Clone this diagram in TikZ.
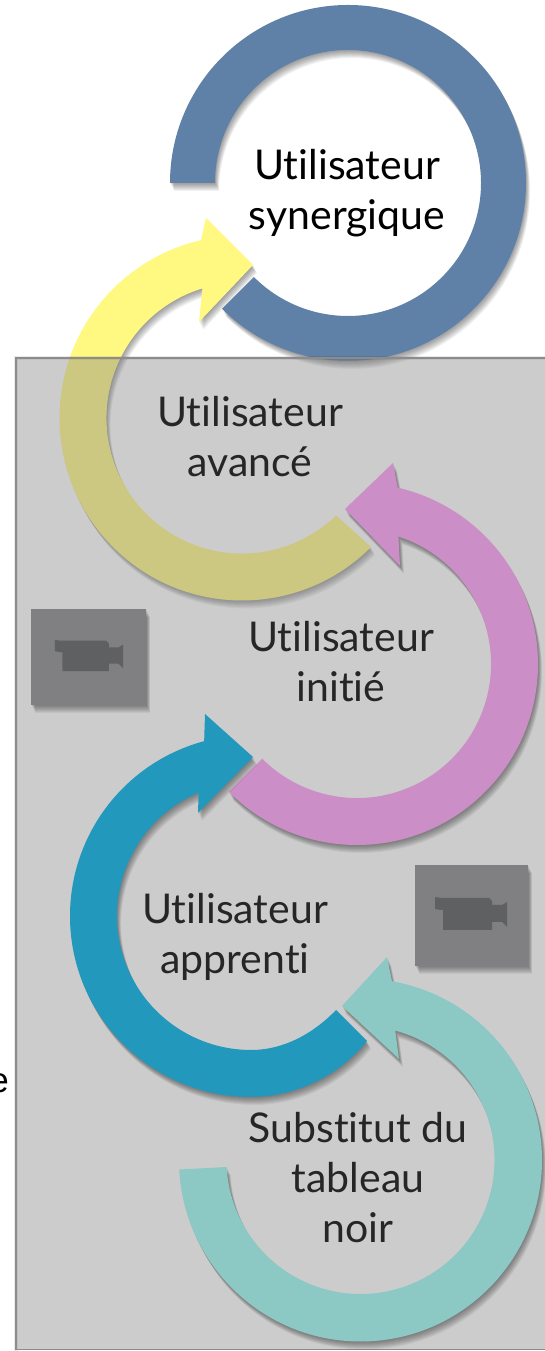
\documentclass[tikz,border=0pt]{standalone}
\usepackage{fontspec}
\setmainfont{Lato}[Ligatures=NoCommon]
\newfontfamily\edgefont{Liberation Sans}
\usetikzlibrary{shadows,calc}
\definecolor{ringblue}{HTML}{6081A7}
\definecolor{ringyellow}{HTML}{FFF982}
\definecolor{ringpink}{HTML}{CC8EC7}
\definecolor{ringcyan}{HTML}{2298BC}
\definecolor{ringteal}{HTML}{8CC8C4}
\definecolor{boxgray}{HTML}{808082}
\definecolor{icongray}{HTML}{5F6062}
\tikzstyle{softlayer} = [general shadow={shadow xshift=#1*.5pt,shadow yshift=-#1*1pt,fill=black,opacity=.055}]
\tikzstyle{softshadow} = [softlayer=8,softlayer=7,softlayer=6,softlayer=5,softlayer=4,softlayer=3,softlayer=2,softlayer=1]
\tikzstyle{ring} = [softshadow]
\tikzstyle{stagetext} = [align=center, text=black!85, font=\fontsize{41}{50}\selectfont]
\tikzstyle{camerabox} = [rectangle, fill=boxgray, softshadow, inner sep=0pt]
\tikzset{camera/.pic={
    \fill [icongray] (-36,16) -- (-30,15) -- (18,15) -- (21,12) -- (21,8) -- (31,8) -- (36,11) -- (36,-14) -- (31,-9) -- (21,-9) -- (21,-17) -- (-28,-17) -- (-28,3) -- (-30,3) -- (-36,4) -- cycle;
}}
\begin{document}
\begin{tikzpicture}[x=1pt,y=1pt]
    \useasboundingbox (0,0) rectangle (544,1351);
    \coordinate (blueC) at (348,1168);
    \coordinate (yellowC) at (242,933);
    \coordinate (pinkC) at (357,687);
    \coordinate (cyanC) at (251,435);
    \coordinate (tealC) at (360.5,191);

    % Cut off word at the edge
    \node [anchor=base east, inner sep=0pt, font=\edgefont\fontsize{35}{35}\selectfont] (edge) at (9,258) {e};

    % Top ring
    \fill [ring, ringblue] ($(blueC)+(180:178)$) arc [start angle=180, end angle=-135, radius=178] -- ($(blueC)+(225:133)$) arc [start angle=225, end angle=540, radius=133] -- cycle;

    % Yellow arrow, under the panel
    \fill [ring, ringyellow] ($(yellowC)+(-45:182.5)$) arc [start angle=-45, end angle=-257, radius=182.5] -- (206,1133) -- (253,1086) -- (199,1029) -- ($(yellowC)+(107:135.5)$) arc [start angle=107, end angle=314, radius=135.5] -- cycle;

    % Panel
    \draw [draw=black, opacity=.08, line width=4pt] (16,-2) -- (16,993) -- (546,993);
    \fill [fill=black!50, fill opacity=.4] (16,1) rectangle (546,993);
    \draw [draw=black!45, line width=1.5pt] (16,1) -- (16,993) -- (546,993);
    \draw [draw=black!45, line width=1pt] (16,1) -- (546,1);

    % Camera boxes
    \node [camerabox, minimum width=115pt, minimum height=96pt] (leftbox) at (88.5,694) {};
    \node [camerabox, minimum width=113pt, minimum height=101pt] (rightbox) at (471.5,435.5) {};
    \pic [scale=.95] at (89,696) {camera};
    \pic at (471,438) {camera};

    % Pink arrow
    \fill [ring, ringpink] ($(pinkC)+(225:181)$) arc [start angle=225, end angle=437, radius=181] -- (393,888) -- (345,842) -- (400,785) -- ($(pinkC)+(72:134)$) arc [start angle=72, end angle=-135, radius=134] -- cycle;

    % Cyan arrow
    \fill [ring, ringcyan] (367,310) .. controls (340,276) and (296,254) .. ($(cyanC)+(-90:181)$) arc [start angle=-90, end angle=-255, radius=181] -- (205,637) -- (253,594) -- (198,538) -- ($(cyanC)+(113:134)$) arc [start angle=113, end angle=270, radius=134] .. controls (285,301) and (315,319) .. (336,341) -- cycle;

    % Teal arrow
    \fill [ring, ringteal] ($(tealC)+(183:181.5)$) arc [start angle=183, end angle=440, radius=181.5] -- (387,394) -- (342,345) -- (399,292) -- ($(tealC)+(75:134)$) arc [start angle=75, end angle=-177, radius=134] -- cycle;

    % Labels
    \node [stagetext, text=black] (synergique) at (347,1158) {Utilisateur\\synergique};
    \node [stagetext] (avance) at (250,914) {Utilisateur\\avancé};
    \node [stagetext] (initie) at (341,689) {Utilisateur\\initié};
    \node [stagetext] (apprenti) at (235,414) {Utilisateur\\apprenti};
    \node [stagetext] (substitut) at (358,173) {Substitut du\\tableau\\noir};
\end{tikzpicture}
\end{document}
